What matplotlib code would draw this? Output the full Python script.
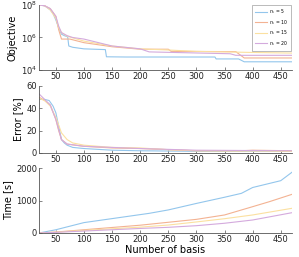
import matplotlib
matplotlib.use("Agg")
import matplotlib.pyplot as plt
import numpy as np

labels = [r"$n_s$ = 5", r"$n_s$ = 10", r"$n_s$ = 15", r"$n_s$ = 20"]
colors = ["#93c6ec", "#f3b292", "#fbe0a0", "#d4aadd"]

# Objective
obj_x = [
    [20, 30, 40, 45, 50, 55, 60, 65, 71, 73, 80, 100, 138, 140, 175, 200, 333, 335, 375, 385, 470],
    [20, 30, 40, 50, 55, 60, 75, 100, 150, 200, 250, 255, 370, 385, 470],
    [20, 30, 40, 50, 55, 60, 70, 100, 150, 200, 250, 300, 400, 470],
    [20, 30, 40, 50, 55, 60, 70, 80, 100, 150, 200, 216, 360, 370, 470],
]
obj_y = [
    [1e8, 9e7, 5e7, 3e7, 1.2e7, 4e6, 1.6e6, 1.3e6, 1.1e6, 3e5, 2.5e5, 2e5, 1.8e5, 6.5e4, 6.3e4, 6.3e4, 6.3e4, 4.8e4, 4.8e4, 3.2e4, 3.2e4],
    [1e8, 9e7, 6e7, 2e7, 3e6, 8e5, 8e5, 4.8e5, 2.7e5, 1.9e5, 1.9e5, 1.4e5, 1.35e5, 5.5e4, 5.5e4],
    [1e8, 9e7, 5e7, 1.5e7, 4e6, 2e6, 1.2e6, 6e5, 3e5, 2e5, 1.7e5, 1.4e5, 1.2e5, 1.1e5],
    [1e8, 9e7, 6e7, 2e7, 5e6, 2e6, 1.3e6, 1e6, 8e5, 3e5, 2e5, 1.3e5, 1e5, 8e4, 8e4],
]

# Error [%]
err_x = [
    [20, 30, 38, 45, 50, 55, 60, 65, 70, 80, 100, 150, 200, 300, 470],
    [20, 30, 40, 50, 55, 60, 70, 100, 150, 200, 300, 380, 400, 470],
    [20, 30, 40, 50, 60, 70, 80, 100, 150, 200, 250, 300, 470],
    [20, 30, 40, 50, 60, 70, 100, 150, 200, 300, 470],
]
err_y = [
    [48, 48, 47, 42, 36, 24, 12, 9, 7, 5, 4, 2.5, 2, 1.5, 1.5],
    [50, 47, 43, 30, 20, 12, 8, 6, 4.5, 4, 2, 2, 2.5, 2],
    [49, 47, 42, 32, 18, 12, 9, 7, 5, 4.5, 3, 2, 1.5],
    [53, 48, 43, 30, 12, 8, 6, 5, 4, 2.5, 2],
]

# Time [s]
time_x = [
    [20, 50, 100, 216, 250, 300, 350, 380, 400, 450, 470],
    [20, 50, 100, 200, 250, 300, 350, 400, 430, 470],
    [20, 50, 100, 200, 250, 300, 350, 400, 470],
    [20, 50, 100, 200, 250, 300, 350, 400, 470],
]
time_y = [
    [0, 100, 320, 605, 710, 910, 1100, 1220, 1400, 1610, 1870],
    [0, 30, 100, 240, 330, 420, 555, 810, 965, 1190],
    [0, 25, 80, 180, 245, 340, 440, 555, 760],
    [0, 20, 60, 140, 175, 225, 300, 400, 625],
]

xticks = [50, 100, 150, 200, 250, 300, 350, 400, 450]

plt.rcParams["font.family"] = "DejaVu Sans"
fig = plt.figure(figsize=(2.99, 2.57), dpi=100)
W, H = 299, 257
def ax_at(l, r, t, b):
    return fig.add_axes([l / W, 1 - b / H, (r - l) / W, (b - t) / H])

ax1 = ax_at(39, 292, 5, 70)
ax2 = ax_at(39, 292, 86, 153)
ax3 = ax_at(39, 292, 168, 233)

axc = "#555555"
for ax in (ax1, ax2, ax3):
    for s in ("top", "right"):
        ax.spines[s].set_visible(False)
    for s in ("left", "bottom"):
        ax.spines[s].set_color(axc)
        ax.spines[s].set_linewidth(0.6)
    ax.tick_params(direction="in", length=2, width=0.5, colors=axc, labelsize=6, labelcolor="#222222", pad=1.5)
    ax.tick_params(which="minor", direction="in", length=1.2, width=0.4, colors=axc)
    ax.set_xlim(20, 470)
    ax.set_xticks(xticks)

for i in range(4):
    ax1.plot(obj_x[i], obj_y[i], color=colors[i], lw=0.8, label=labels[i])
    ax2.plot(err_x[i], err_y[i], color=colors[i], lw=0.8)
    ax3.plot(time_x[i], time_y[i], color=colors[i], lw=0.8)

ax1.set_yscale("log")
ax1.set_ylim(1e4, 1e8)
ax1.set_yticks([1e4, 1e6, 1e8])
ax1.set_ylabel("Objective", fontsize=7, labelpad=2)
leg = ax1.legend(loc="upper right", bbox_to_anchor=(1.0, 1.02), fontsize=3.3, frameon=True,
                 fancybox=False, edgecolor="#888888", handlelength=2.6, borderpad=0.6,
                 labelspacing=0.35, handletextpad=0.5, borderaxespad=0.2)
leg.get_frame().set_linewidth(0.5)
for line in leg.get_lines():
    line.set_linewidth(0.8)

ax2.set_ylim(0, 60)
ax2.set_yticks([0, 20, 40, 60])
ax2.set_ylabel("Error [%]", fontsize=7, labelpad=2)

ax3.set_ylim(0, 2000)
ax3.set_yticks([0, 1000, 2000])
ax3.set_ylabel("Time [s]", fontsize=7, labelpad=2)
ax3.set_xlabel("Number of basis", fontsize=7, labelpad=1)

fig.savefig("out.png", dpi=100)
